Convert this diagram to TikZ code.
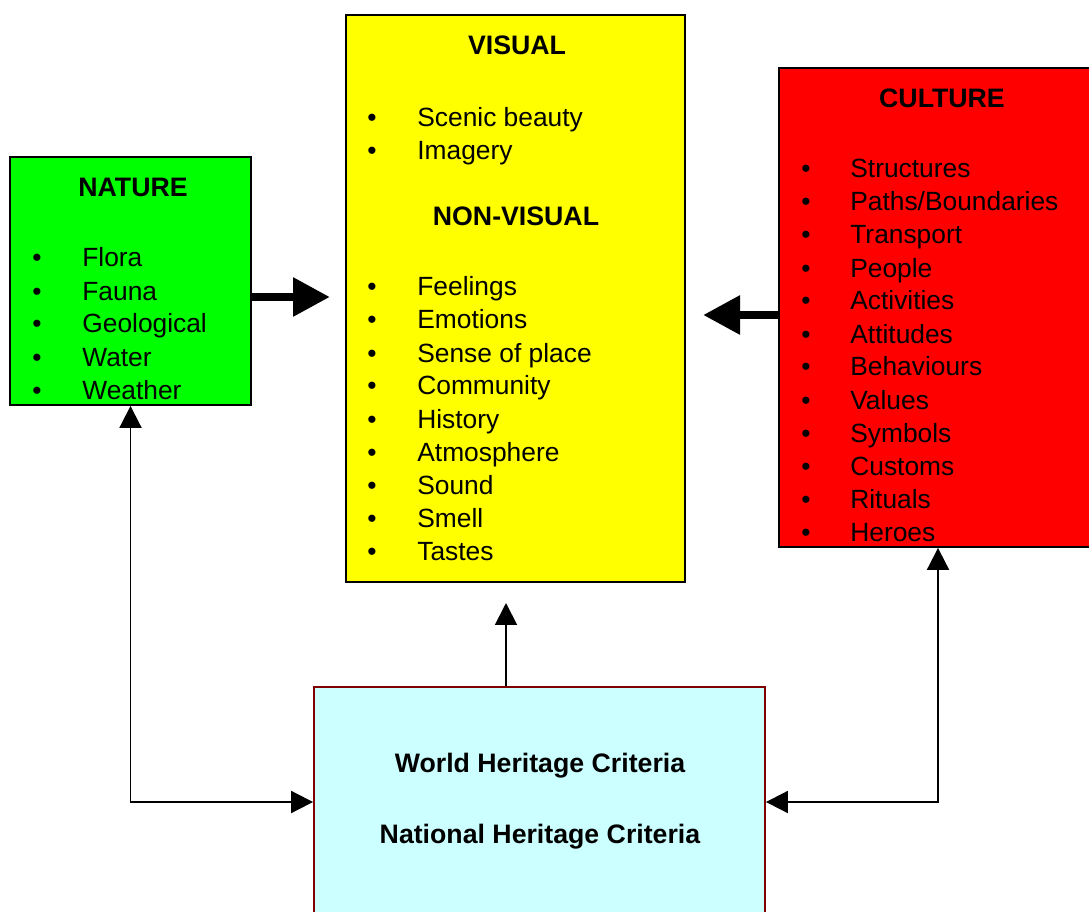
\documentclass[tikz,border=0pt]{standalone}
\usepackage{fontspec}
\setmainfont{Liberation Sans}
\usepackage{tikz}
\usetikzlibrary{arrows.meta,positioning}

\definecolor{natgreen}{HTML}{00FF00}
\definecolor{visyellow}{HTML}{FFFF00}
\definecolor{culred}{HTML}{FF0000}
\definecolor{herblue}{HTML}{CCFFFF}
\definecolor{herborder}{HTML}{800000}

\begin{document}
\begin{tikzpicture}[x=0.02cm,y=-0.02cm,
    box/.style={draw=black,line width=1.1pt,inner sep=0pt},
    title/.style={anchor=base,font=\fontsize{15.2}{19}\selectfont\bfseries},
    item/.style={anchor=base west,inner sep=0pt,font=\fontsize{15}{19}\selectfont},
    dot/.style={anchor=base,inner sep=0pt,font=\fontsize{15}{19}\selectfont},
    fatarrow/.style={line width=5pt,-{Triangle[length=0.74cm,width=0.74cm]}},
    thinarrow/.style={line width=1.1pt,-{Triangle[length=0.44cm,width=0.44cm]}},
    twoarrow/.style={line width=1.1pt,{Triangle[length=0.44cm,width=0.44cm]}-{Triangle[length=0.44cm,width=0.44cm]}}]
  \clip (0,0) rectangle (1089,912);
  \useasboundingbox (0,0) rectangle (1089,912);

  % boxes
  \node[box,fill=natgreen,minimum width=4.82cm,minimum height=4.96cm] (nature) at (130.5,281) {};
  \node[box,fill=visyellow,minimum width=6.78cm,minimum height=11.34cm] (visual) at (515.5,298.5) {};
  \node[box,fill=culred,minimum width=6.36cm,minimum height=9.58cm] (culture) at (938,307.5) {};
  \node[box,draw=herborder,fill=herblue,minimum width=9.02cm,minimum height=4.6cm] (heritage) at (539.5,802) {};

  % nature
  \node[title] (natt) at (133,197) {NATURE};
  \foreach \t [count=\i] in {Flora,Fauna,Geological,Water,Weather} {
    \node[dot] (natd\i) at (37,{234+33*\i}) {\textbullet};
    \node[item] (nati\i) at (82,{234+33*\i}) {\t};
  }

  % visual / non-visual
  \node[title] (vist) at (517,55) {VISUAL};
  \foreach \t [count=\i] in {Scenic beauty,Imagery} {
    \node[dot] (visd\i) at (372,{94+33*\i}) {\textbullet};
    \node[item] (visi\i) at (417,{94+33*\i}) {\t};
  }
  \node[title] (nvist) at (516,226) {NON-VISUAL};
  \foreach \t [count=\i] in {Feelings,Emotions,Sense of place,Community,History,Atmosphere,Sound,Smell,Tastes} {
    \node[dot] (nvisd\i) at (372,{263+33*\i}) {\textbullet};
    \node[item] (nvisi\i) at (417,{263+33*\i}) {\t};
  }

  % culture
  \node[title] (cult) at (942,108) {CULTURE};
  \foreach \t [count=\i] in {Structures,Paths/Boundaries,Transport,People,Activities,Attitudes,Behaviours,Values,Symbols,Customs,Rituals,Heroes} {
    \node[dot] (culd\i) at (806,{145+33*\i}) {\textbullet};
    \node[item] (culi\i) at (850,{145+33*\i}) {\t};
  }

  % heritage
  \node[title] (wh) at (540,772) {World Heritage Criteria};
  \node[title] (nh) at (540,843) {National Heritage Criteria};

  % arrows
  \coordinate (natarr) at (330,297);
  \coordinate (cularr) at (703,315);
  \coordinate (uparr) at (506,603);
  \draw[fatarrow] (nature.east |- natarr) -- (natarr);
  \draw[fatarrow] (culture.west |- cularr) -- (cularr);
  \draw[thinarrow] (heritage.north -| uparr) -- (uparr);
  \draw[twoarrow] (nature.south) |- (heritage.west);
  \draw[twoarrow] (culture.south) |- (heritage.east);
\end{tikzpicture}
\end{document}
